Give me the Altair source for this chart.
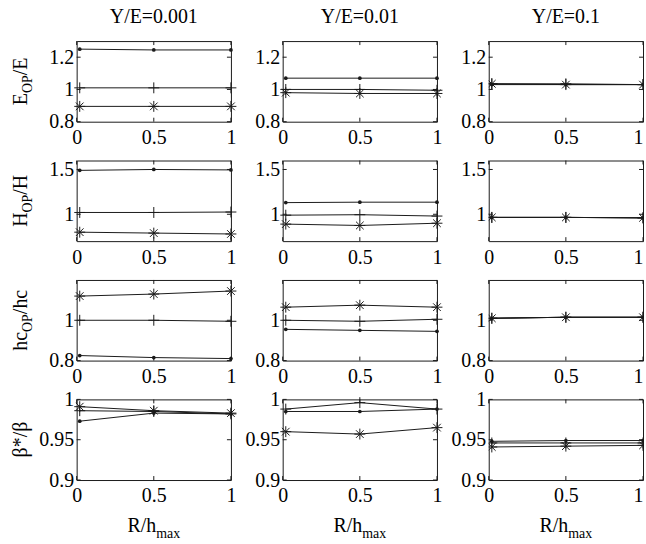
import altair as alt
import pandas as pd

# ---- values ---------------------------------------------------------------
x_vals = [0.02, 0.5, 1.0]                      # R/h_max sample points
x_ticks = [0, 0.5, 1]
col_titles = ["Y/E=0.001", "Y/E=0.01", "Y/E=0.1"]

# each list holds one series per Y/E column: [col1, col2, col3]
e_dot = [[1.25, 1.245, 1.245], [1.07, 1.07, 1.07], [1.03, 1.03, 1.03]]
e_plus = [[1.01, 1.01, 1.01], [1.0, 1.0, 0.995], [1.035, 1.035, 1.03]]
e_star = [[0.895, 0.895, 0.895], [0.98, 0.975, 0.975], [1.035, 1.03, 1.03]]

h_dot = [[1.49, 1.50, 1.495], [1.13, 1.135, 1.135], [0.965, 0.965, 0.96]]
h_plus = [[1.02, 1.02, 1.025], [0.99, 0.995, 0.98], [0.965, 0.965, 0.96]]
h_star = [[0.80, 0.79, 0.78], [0.89, 0.875, 0.90], [0.965, 0.965, 0.96]]

hc_dot = [[0.825, 0.815, 0.81], [0.955, 0.95, 0.945], [1.01, 1.015, 1.015]]
hc_plus = [[1.0, 1.0, 0.995], [1.0, 0.995, 1.005], [1.01, 1.015, 1.015]]
hc_star = [[1.12, 1.13, 1.145], [1.065, 1.075, 1.065], [1.01, 1.015, 1.015]]

b_dot = [[0.973, 0.983, 0.982], [0.985, 0.985, 0.988], [0.948, 0.949, 0.949]]
b_plus = [[0.986, 0.985, 0.982], [0.988, 0.996, 0.988], [0.946, 0.946, 0.946]]
b_star = [[0.991, 0.986, 0.983], [0.960, 0.957, 0.965], [0.941, 0.942, 0.943]]

row_series = [
    (e_dot, e_plus, e_star),
    (h_dot, h_plus, h_star),
    (hc_dot, hc_plus, hc_star),
    (b_dot, b_plus, b_star),
]
row_domains = [[0.8, 1.3], [0.7, 1.6], [0.8, 1.2], [0.9, 1.0]]
row_ticks = [[0.8, 1, 1.2], [1, 1.5], [0.8, 1], [0.9, 0.95, 1]]

# row titles as (text, is_subscript) pieces
row_titles = [
    [("E", False), ("OP", True), ("/E", False)],
    [("H", False), ("OP", True), ("/H", False)],
    [("hc", False), ("OP", True), ("/hc", False)],
    [("β*/β", False)],
]
x_title = [("R/h", False), ("max", True)]

# ---- style ----------------------------------------------------------------
FONT = "Liberation Serif"
FS = 20          # main text size
SUB = 14         # subscript size
W, H = 155, 81   # plot size of each panel
HSPACE, VSPACE = 52, 39
TICK = 4
INK = "#1a1a1a"

PLUS = "M-1,0L1,0M0,-1L0,1"
STAR = "M-1,0L1,0M0,-1L0,1M-0.7,-0.7L0.7,0.7M-0.7,0.7L0.7,-0.7"

# Times-like advance widths (em) used to lay out title pieces
ADV = {"E": 0.611, "O": 0.722, "P": 0.556, "/": 0.278, "H": 0.722,
       "h": 0.5, "c": 0.444, "R": 0.667, "m": 0.778, "a": 0.444,
       "x": 0.5, "β": 0.5, "*": 0.5}


def text_width(s, size):
    return sum(ADV.get(ch, 0.5) for ch in s) * size


def piece_layers(pieces, x, y, angle, sub_shift):
    sizes = [SUB if sub else FS for _, sub in pieces]
    widths = [text_width(t, s) for (t, _), s in zip(pieces, sizes)]
    start = -sum(widths) / 2
    layers = []
    for (txt, sub), size, w in zip(pieces, sizes, widths):
        layers.append(
            alt.Chart(pd.DataFrame({"t": [txt]}))
            .mark_text(angle=angle, align="left", baseline="alphabetic",
                       dx=start, dy=sub_shift if sub else 0,
                       font=FONT, fontSize=size, color="black")
            .encode(x=alt.value(x), y=alt.value(y), text="t:N")
        )
        start += w
    return layers


def panel(r, c):
    dot, plus, star = row_series[r]
    recs = []
    for name, vals in (("dot", dot[c]), ("plus", plus[c]), ("star", star[c])):
        for xv, yv in zip(x_vals, vals):
            recs.append({"x": xv, "y": yv, "s": name})
    df = pd.DataFrame(recs)
    last_col = c == 2

    xsc = alt.Scale(domain=[0, 1], nice=False, zero=False)
    ysc = alt.Scale(domain=row_domains[r], nice=False, zero=False)
    common = dict(format="~g", labelFont=FONT, labelFontSize=FS,
                  labelColor="black", ticks=False, domain=False,
                  grid=False, title=None, labelFlush=False)
    x_extra = {}
    if last_col:
        # the right-most column runs to the page edge: keep its last label inside
        x_extra["labelAlign"] = {"condition": {"test": "datum.value == 1", "value": "right"},
                                 "value": "center"}
    xax = alt.Axis(values=x_ticks, labelPadding=6, **common, **x_extra)
    yax = alt.Axis(values=row_ticks[r], labelPadding=3, **common)

    base = alt.Chart(df).encode(
        x=alt.X("x:Q", scale=xsc, axis=xax),
        y=alt.Y("y:Q", scale=ysc, axis=yax),
    )
    lines = base.mark_line(color=INK, strokeWidth=1).encode(detail="s:N")
    dots = base.transform_filter(alt.datum.s == "dot").mark_point(
        shape="circle", filled=True, size=14, color=INK, opacity=1, clip=last_col)
    pluses = base.transform_filter(alt.datum.s == "plus").mark_point(
        shape=PLUS, filled=False, size=120, color=INK, strokeWidth=1, opacity=1,
        clip=last_col)
    stars = base.transform_filter(alt.datum.s == "star").mark_point(
        shape=STAR, filled=False, size=120, color=INK, strokeWidth=1, opacity=1,
        clip=last_col)

    # inward tick marks on all four sides (same scales and axes as the data)
    xt = alt.Chart(pd.DataFrame({"t": x_ticks}))
    yt = alt.Chart(pd.DataFrame({"t": row_ticks[r]}))
    tx = alt.X("t:Q", scale=xsc, axis=xax)
    ty = alt.Y("t:Q", scale=ysc, axis=yax)
    ticks = [
        xt.mark_rule(color=INK, strokeWidth=1).encode(x=tx, y=alt.value(0), y2=alt.value(TICK)),
        xt.mark_rule(color=INK, strokeWidth=1).encode(x=tx, y=alt.value(H), y2=alt.value(H - TICK)),
        yt.mark_rule(color=INK, strokeWidth=1).encode(y=ty, x=alt.value(0), x2=alt.value(TICK)),
        yt.mark_rule(color=INK, strokeWidth=1).encode(y=ty, x=alt.value(W), x2=alt.value(W - TICK)),
    ]

    layers = [lines, dots, pluses, stars] + ticks
    if c == 0:
        layers += piece_layers(row_titles[r], -50, H / 2, 270, 5)
    if r == 3:
        layers += piece_layers(x_title, W / 2, H + 52, 0, 6)

    ch = alt.layer(*layers).properties(width=W, height=H)
    if r == 0:
        ch = ch.properties(title=alt.TitleParams(
            text=col_titles[c], font=FONT, fontSize=FS, fontWeight="normal",
            color="black", offset=14, anchor="middle"))
    return ch


panels = [panel(r, c) for r in range(4) for c in range(3)]

chart = (
    alt.concat(*panels, columns=3, spacing={"row": VSPACE, "column": HSPACE},
               bounds="flush")
    .properties(padding={"left": 10, "top": 5, "right": 0, "bottom": 0},
                background="white")
    .configure_view(stroke=INK, strokeWidth=1)
)

chart.save("out.html", embed_options={"renderer": "svg", "actions": False})
